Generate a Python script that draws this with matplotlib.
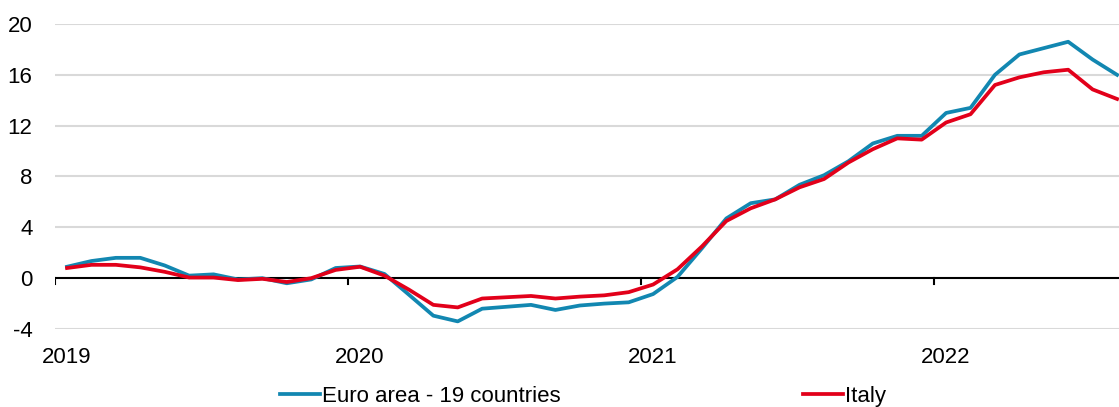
import matplotlib
matplotlib.use("Agg")
import matplotlib.pyplot as plt
import numpy as np

plt.rcParams['font.family'] = ['Liberation Sans', 'DejaVu Sans']
plt.rcParams['axes.unicode_minus'] = False

# monthly, Jan 2019 - Aug 2022
years = ['2019', '2020', '2021', '2022']
euro = [0.9, 1.35, 1.6, 1.6, 1.0, 0.2, 0.3, -0.1, 0.0, -0.4, -0.1, 0.8,
        0.92, 0.33, -1.3, -2.95, -3.4, -2.4, -2.25, -2.1, -2.5, -2.15, -2.0, -1.9,
        -1.25, 0.1, 2.35, 4.7, 5.9, 6.2, 7.35, 8.1, 9.2, 10.6, 11.2, 11.2,
        13.0, 13.4, 16.0, 17.6, 18.1, 18.6, 17.2, 16.0]
italy = [0.8, 1.05, 1.05, 0.85, 0.5, 0.05, 0.05, -0.15, -0.05, -0.3, 0.0, 0.65,
         0.9, 0.2, -0.9, -2.1, -2.3, -1.6, -1.5, -1.4, -1.6, -1.45, -1.35, -1.1,
         -0.5, 0.7, 2.5, 4.5, 5.5, 6.2, 7.15, 7.8, 9.1, 10.15, 11.0, 10.9,
         12.25, 12.9, 15.2, 15.8, 16.2, 16.4, 14.85, 14.1]
yticks = [-4, 0, 4, 8, 12, 16, 20]

fs = 16
fig = plt.figure(figsize=(11.19, 4.07), dpi=100)
ax = fig.add_axes([0.049, 0.1916, 0.951, 0.7495])

x = np.arange(len(euro))
for t in yticks:
    if t != 0:
        ax.axhline(t, color='#d9d9d9', lw=1.5, zorder=1)
ax.axhline(0, color='black', lw=1.5, zorder=2)
# year ticks below the zero line
for i in range(len(years)):
    ax.plot([i * 12 - 0.5] * 2, [0, -0.47], color='black', lw=1.5, zorder=2)

ax.plot(x, euro, color='#1287b1', lw=2.7, label='Euro area - 19 countries', zorder=3)
ax.plot(x, italy, color='#e2001a', lw=2.7, label='Italy', zorder=4)

ax.set_xlim(-0.5, 43.08)
ax.set_ylim(-4, 20)
ax.set_yticks(yticks)
ax.set_xticks([i * 12 for i in range(len(years))])
ax.set_xticklabels(years)
ax.tick_params(axis='both', length=0, labelsize=fs)
ax.tick_params(axis='x', pad=13)
ax.tick_params(axis='y', pad=16)
for s in ax.spines.values():
    s.set_visible(False)

fig.legend(loc='center', bbox_to_anchor=(0.521, 0.027), ncol=2, frameon=False,
           fontsize=fs, handlelength=1.8, handletextpad=0.1, columnspacing=10.9)

fig.savefig('out.png', dpi=100)
